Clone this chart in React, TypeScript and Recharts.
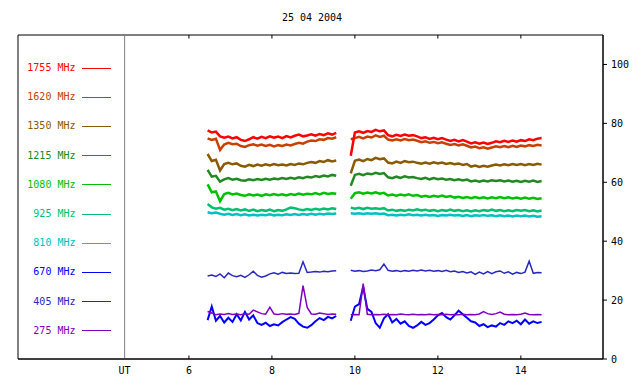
import { LineChart, Line, XAxis, YAxis, ReferenceLine, ReferenceArea } from "recharts";

const TITLE = "25 04 2004";

const T1 = [6.45, 6.55, 6.65, 6.75, 6.85, 6.95, 7.05, 7.15, 7.25, 7.35, 7.45, 7.55, 7.65, 7.75, 7.85, 7.95, 8.05, 8.15, 8.25, 8.35, 8.45, 8.55, 8.65, 8.75, 8.85, 8.95, 9.05, 9.15, 9.25, 9.35, 9.45, 9.55];
const T2 = [9.9, 10.0, 10.1, 10.2, 10.3, 10.4, 10.5, 10.6, 10.7, 10.8, 10.9, 11.0, 11.1, 11.2, 11.3, 11.4, 11.5, 11.6, 11.7, 11.8, 11.9, 12.0, 12.1, 12.2, 12.3, 12.4, 12.5, 12.6, 12.7, 12.8, 12.9, 13.0, 13.1, 13.2, 13.3, 13.4, 13.5, 13.6, 13.7, 13.8, 13.9, 14.0, 14.1, 14.2, 14.3, 14.4, 14.5];
const GAP_T = 9.7;

const X_DOMAIN = [1.88, 15.98];
const Y_DOMAIN = [0, 110];
const X_TICKS = [6, 8, 10, 12, 14];
const UT_POS = 4.45;
const Y_TICKS = [0, 20, 40, 60, 80, 100];
const TICK_LEN = 1.2; // inward tick length, in y units

const LABELS = ["1755 MHz", "1620 MHz", "1350 MHz", "1215 MHz", "1080 MHz", "925 MHz", "810 MHz", "670 MHz", "405 MHz", "275 MHz"];
const COLORS = ["#ff0000", "#c84000", "#8a5a00", "#228822", "#00c000", "#00c070", "#00c0c0", "#0000ff", "#2828c0", "#8000c0"];

const F1755_A = [77.6, 76.9, 77.2, 75.6, 75.1, 75.5, 74.9, 75.3, 74.4, 74.0, 74.6, 75.3, 74.8, 75.4, 75.0, 75.6, 75.1, 75.5, 75.0, 75.7, 75.2, 75.8, 76.2, 75.6, 75.9, 76.3, 75.8, 76.4, 76.0, 76.6, 76.2, 76.8];
const F1755_B = [69.0, 76.9, 77.3, 76.8, 77.4, 77.1, 77.8, 77.3, 77.6, 76.0, 75.6, 76.1, 75.7, 76.2, 75.8, 76.0, 75.6, 75.0, 75.3, 74.7, 75.1, 74.6, 75.0, 74.5, 74.0, 74.4, 73.9, 74.3, 73.8, 73.2, 73.6, 73.1, 73.5, 73.0, 73.4, 73.9, 73.6, 74.1, 73.7, 74.2, 73.8, 74.3, 74.0, 74.6, 74.3, 74.8, 75.0];
const F1620_A = [74.9, 74.4, 74.8, 71.0, 72.8, 73.4, 72.9, 73.1, 72.3, 72.0, 72.6, 72.9, 72.4, 72.8, 72.3, 72.7, 72.2, 72.6, 72.3, 72.8, 72.5, 73.0, 73.4, 73.1, 73.8, 74.2, 74.0, 74.6, 74.4, 75.0, 74.8, 75.3];
const F1620_B = [74.6, 75.0, 75.4, 74.9, 75.5, 75.2, 75.9, 75.4, 75.8, 74.5, 74.2, 74.6, 74.2, 74.7, 74.3, 74.5, 74.1, 73.6, 73.9, 73.4, 73.7, 73.3, 73.6, 73.1, 72.7, 73.0, 72.5, 72.9, 72.4, 71.8, 72.1, 71.6, 71.9, 71.4, 71.8, 72.2, 71.9, 72.3, 71.9, 72.4, 72.0, 72.5, 72.2, 72.6, 72.3, 72.7, 72.5];
const F1350_A = [69.6, 67.2, 67.6, 64.0, 66.2, 66.6, 66.1, 66.4, 65.6, 65.3, 65.9, 65.5, 66.0, 65.6, 66.1, 65.7, 66.2, 65.8, 66.0, 65.7, 66.2, 65.9, 66.4, 66.1, 66.6, 66.9, 66.6, 67.2, 66.9, 67.5, 67.1, 67.4];
const F1350_B = [63.0, 67.3, 67.7, 67.2, 67.9, 67.5, 68.3, 67.8, 68.1, 66.7, 66.4, 67.0, 66.6, 67.2, 66.8, 67.0, 66.6, 66.3, 66.7, 66.3, 66.8, 66.4, 66.7, 66.2, 66.5, 66.1, 66.4, 65.9, 66.2, 65.3, 65.7, 65.2, 65.6, 65.3, 65.7, 66.0, 65.7, 66.1, 65.8, 66.2, 65.9, 66.2, 65.8, 66.2, 65.9, 66.3, 66.0];
const F1215_A = [64.2, 61.9, 62.2, 60.2, 61.0, 61.4, 60.9, 61.2, 60.7, 60.5, 61.0, 60.7, 61.1, 60.8, 61.2, 60.9, 61.3, 61.0, 61.4, 61.1, 61.5, 61.2, 61.7, 61.4, 61.9, 61.6, 62.1, 61.8, 62.3, 62.0, 62.5, 62.2];
const F1215_B = [58.8, 62.5, 62.9, 62.4, 63.0, 62.7, 63.2, 62.8, 63.1, 61.7, 61.4, 61.9, 61.5, 62.0, 61.6, 61.8, 61.4, 61.1, 61.5, 61.0, 61.4, 61.0, 61.3, 60.9, 61.1, 60.7, 61.0, 60.6, 60.9, 60.3, 60.6, 60.2, 60.6, 60.3, 60.7, 60.4, 60.7, 60.3, 60.6, 60.2, 60.5, 60.1, 60.5, 60.2, 60.6, 60.1, 60.4];
const F1080_A = [59.3, 56.6, 56.9, 53.6, 56.0, 56.4, 55.9, 56.2, 55.7, 55.4, 55.9, 55.5, 55.8, 55.4, 55.9, 55.6, 56.0, 55.6, 55.9, 55.5, 56.0, 55.7, 56.2, 55.8, 56.1, 55.9, 56.3, 55.9, 56.4, 56.0, 56.3, 56.1];
const F1080_B = [54.4, 56.3, 56.6, 56.1, 56.5, 56.2, 56.6, 56.1, 56.4, 55.5, 55.8, 55.4, 55.8, 55.5, 55.9, 55.4, 55.7, 55.1, 55.4, 55.0, 55.4, 55.1, 55.5, 55.0, 55.3, 54.8, 55.1, 54.7, 55.0, 54.6, 55.0, 54.6, 54.9, 54.5, 54.9, 54.6, 55.0, 54.6, 54.9, 54.5, 54.8, 54.4, 54.8, 54.4, 54.7, 54.3, 54.6];
const F925_A = [52.6, 51.5, 51.0, 51.3, 50.7, 51.0, 50.5, 50.9, 50.4, 50.8, 50.3, 50.7, 50.2, 50.6, 50.3, 50.7, 50.2, 50.6, 50.3, 50.8, 51.4, 51.2, 50.8, 50.5, 50.9, 50.6, 51.0, 50.7, 51.1, 50.8, 51.2, 50.9];
const F925_B = [51.4, 51.0, 51.3, 50.9, 51.3, 51.0, 51.2, 50.9, 51.2, 50.4, 50.7, 50.3, 50.6, 50.3, 50.7, 50.4, 50.8, 50.4, 50.7, 50.3, 50.6, 50.2, 50.6, 50.3, 50.7, 50.3, 50.6, 50.2, 50.5, 50.1, 50.5, 50.2, 50.6, 50.3, 50.7, 50.3, 50.6, 50.2, 50.5, 50.2, 50.6, 50.3, 50.6, 50.2, 50.5, 50.1, 50.4];
const F810_A = [49.8, 49.5, 49.7, 49.3, 49.0, 49.3, 48.9, 49.2, 48.8, 49.1, 48.7, 49.0, 48.7, 49.0, 48.8, 49.1, 48.7, 49.0, 48.8, 49.1, 48.9, 49.2, 48.9, 49.2, 49.0, 49.3, 49.0, 49.3, 49.1, 49.4, 49.2, 49.4];
const F810_B = [49.5, 49.3, 49.5, 49.2, 49.5, 49.3, 49.5, 49.2, 49.4, 48.8, 49.0, 48.7, 49.0, 48.8, 49.1, 48.8, 49.0, 48.7, 49.0, 48.7, 48.9, 48.6, 48.9, 48.7, 49.0, 48.7, 48.9, 48.6, 48.9, 48.5, 48.8, 48.6, 48.9, 48.6, 48.8, 48.5, 48.8, 48.5, 48.7, 48.4, 48.7, 48.5, 48.7, 48.4, 48.6, 48.3, 48.5];
const F670_A = [13.2, 17.8, 13.0, 14.6, 12.4, 14.0, 12.6, 15.2, 13.1, 16.0, 13.4, 14.8, 12.2, 11.6, 12.3, 11.2, 11.8, 11.4, 12.5, 13.4, 14.2, 13.6, 12.0, 11.0, 10.6, 11.5, 12.8, 13.9, 13.2, 14.3, 13.8, 14.6];
const F670_B = [13.0, 17.8, 18.6, 24.5, 17.0, 16.0, 12.2, 10.6, 13.8, 15.2, 12.4, 13.6, 12.0, 12.8, 11.2, 10.6, 11.4, 12.6, 11.6, 12.2, 13.4, 14.8, 15.6, 14.2, 13.4, 14.8, 16.4, 15.2, 14.0, 12.8, 12.4, 11.2, 11.8, 10.8, 11.4, 11.0, 12.2, 11.6, 12.8, 12.2, 13.0, 11.8, 13.4, 12.0, 12.8, 12.2, 12.6];
const F405_A = [28.2, 28.5, 28.0, 28.9, 27.6, 29.2, 28.3, 27.9, 28.4, 27.7, 28.6, 29.8, 28.4, 27.8, 28.2, 28.9, 29.3, 28.8, 29.4, 29.0, 29.2, 29.0, 29.1, 33.0, 29.4, 29.5, 29.7, 29.5, 29.8, 29.6, 29.9, 30.0];
const F405_B = [30.1, 29.8, 30.0, 29.7, 29.9, 30.2, 30.0, 30.3, 32.2, 30.1, 29.8, 30.0, 29.7, 30.0, 29.8, 30.1, 29.9, 30.2, 29.9, 30.1, 29.8, 30.0, 29.7, 30.1, 29.6, 29.9, 29.4, 29.7, 29.2, 29.6, 28.7, 29.5, 28.9, 29.7, 29.0, 29.6, 29.9, 29.1, 29.6, 28.8, 29.4, 29.0, 29.5, 33.2, 29.1, 29.4, 29.3];
const F275_A = [16.1, 15.6, 15.0, 15.3, 15.1, 15.4, 15.1, 15.3, 15.0, 15.4, 15.2, 16.6, 16.0, 15.4, 15.2, 17.6, 15.3, 15.1, 15.4, 15.2, 15.3, 15.1, 15.5, 24.9, 17.5, 15.3, 15.2, 15.6, 15.4, 15.1, 15.3, 15.2];
const F275_B = [15.0, 15.1, 15.0, 25.6, 15.2, 15.0, 15.1, 15.0, 15.2, 15.0, 15.1, 15.0, 15.3, 15.1, 15.0, 15.2, 15.0, 15.1, 15.0, 15.2, 15.0, 15.1, 15.0, 15.2, 15.0, 15.1, 15.0, 15.2, 15.0, 15.1, 15.0, 15.3, 16.1, 15.4, 15.1, 15.4, 15.9, 15.2, 15.0, 15.1, 15.0, 15.2, 15.6, 15.1, 15.0, 15.1, 15.0];

// first and second observing session for each frequency, same order as LABELS
const SESSION_A = [F1755_A, F1620_A, F1350_A, F1215_A, F1080_A, F925_A, F810_A, F670_A, F405_A, F275_A];
const SESSION_B = [F1755_B, F1620_B, F1350_B, F1215_B, F1080_B, F925_B, F810_B, F670_B, F405_B, F275_B];

// order the traces are painted in
const DRAW_ORDER = [6, 5, 4, 3, 2, 1, 0, 8, 7, 9];

function buildRows() {
  const rows: Record<string, number | null>[] = [];
  T1.forEach((t, i) => {
    const r: Record<string, number | null> = { t };
    SESSION_A.forEach((s, k) => (r["s" + k] = s[i] ?? null));
    rows.push(r);
  });
  const gap: Record<string, number | null> = { t: GAP_T };
  LABELS.forEach((_, k) => (gap["s" + k] = null));
  rows.push(gap);
  T2.forEach((t, i) => {
    const r: Record<string, number | null> = { t };
    SESSION_B.forEach((s, k) => (r["s" + k] = s[i] ?? null));
    rows.push(r);
  });
  return rows;
}

const data = buildRows();
const FONT = "'DejaVu Sans Mono', monospace";

const BottomLabel = (props: any) => {
  const { x, y, payload } = props;
  return (
    <text x={x} y={y + 15} textAnchor="middle" fontFamily={FONT} fontSize={10} fill="#000">
      {payload.value === UT_POS ? "UT" : payload.value}
    </text>
  );
};

export default function App() {
  const [y0, y1] = Y_DOMAIN;
  return (
    <div style={{ position: "absolute", left: 0, top: 0, width: 640, height: 384, background: "#fff" }}>
      <LineChart width={640} height={384} data={data} margin={{ top: 35, right: 7, bottom: 5, left: 18 }}>
        <XAxis
          dataKey="t"
          type="number"
          domain={X_DOMAIN}
          allowDataOverflow
          ticks={[UT_POS, ...X_TICKS]}
          interval={0}
          tickLine={false}
          tickSize={0}
          tickMargin={0}
          height={20}
          axisLine={{ stroke: "#000" }}
          tick={<BottomLabel />}
        />
        <YAxis
          orientation="right"
          type="number"
          domain={Y_DOMAIN}
          allowDataOverflow
          ticks={Y_TICKS}
          interval={0}
          width={30}
          tickSize={4}
          tickMargin={4}
          axisLine={{ stroke: "#000" }}
          tickLine={{ stroke: "#000" }}
          tick={{ fontFamily: FONT, fontSize: 10, fill: "#000" }}
        />
        <ReferenceArea
          x1={X_DOMAIN[0]}
          x2={X_DOMAIN[1]}
          y1={y0}
          y2={y1}
          stroke="#000"
          fill="none"
          fillOpacity={0}
          ifOverflow="visible"
        />
        <ReferenceLine x={UT_POS} stroke="#808080" />
        {X_TICKS.map((t) => (
          <ReferenceLine
            key={"b" + t}
            segment={[{ x: t, y: y0 }, { x: t, y: y0 + TICK_LEN }]}
            stroke="#000"
            ifOverflow="visible"
          />
        ))}
        {X_TICKS.map((t) => (
          <ReferenceLine
            key={"t" + t}
            segment={[{ x: t, y: y1 }, { x: t, y: y1 - TICK_LEN }]}
            stroke="#000"
            ifOverflow="visible"
          />
        ))}
        {DRAW_ORDER.map((k) => (
          <Line
            key={k}
            dataKey={"s" + k}
            stroke={COLORS[k]}
            strokeWidth={k >= 8 ? 1.5 : k === 7 ? 2 : 2.5}
            dot={false}
            type="linear"
            isAnimationActive={false}
          />
        ))}
      </LineChart>
      <svg width={640} height={384} style={{ position: "absolute", left: 0, top: 0, pointerEvents: "none" }}>
        <text x={312} y={17} textAnchor="middle" dominantBaseline="central" fontFamily={FONT} fontSize={10} fill="#000">
          {TITLE}
        </text>
        {LABELS.map((label, i) => {
          const y = 67.5 + i * 29.2;
          return (
            <g key={label}>
              <text x={75.5} y={y} textAnchor="end" dominantBaseline="central" fontFamily={FONT} fontSize={10} fill={COLORS[i]}>
                {label}
              </text>
              <line x1={82} x2={111} y1={Math.round(y) + 0.5} y2={Math.round(y) + 0.5} stroke={COLORS[i]} />
            </g>
          );
        })}
      </svg>
    </div>
  );
}
